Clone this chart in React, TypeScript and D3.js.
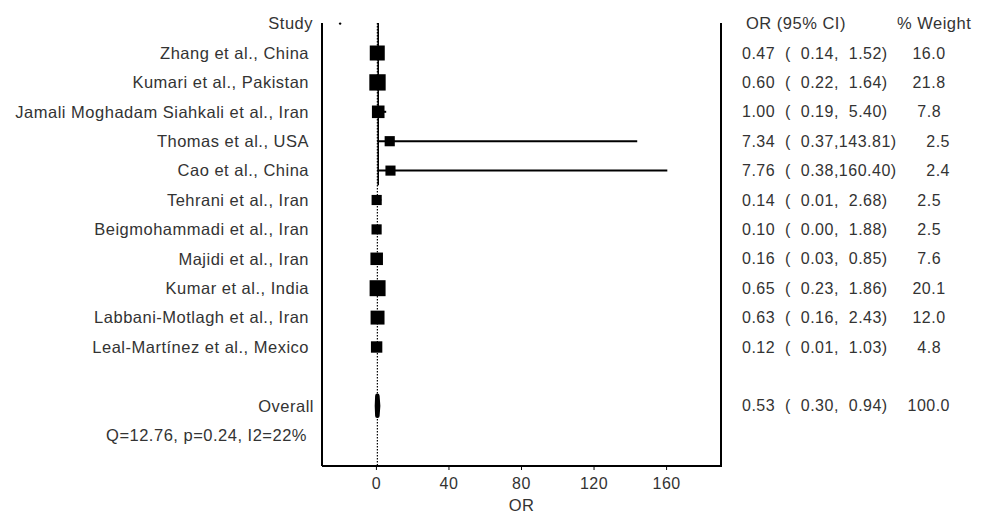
import React from 'react';
import * as d3 from 'd3';

const studies = [
  'Zhang et al., China',
  'Kumari et al., Pakistan',
  'Jamali Moghadam Siahkali et al., Iran',
  'Thomas et al., USA',
  'Cao et al., China',
  'Tehrani et al., Iran',
  'Beigmohammadi et al., Iran',
  'Majidi et al., Iran',
  'Kumar et al., India',
  'Labbani-Motlagh et al., Iran',
  'Leal-Martínez et al., Mexico',
];
const orValues = [0.47, 0.60, 1.00, 7.34, 7.76, 0.14, 0.10, 0.16, 0.65, 0.63, 0.12];
const lowerValues = [0.14, 0.22, 0.19, 0.37, 0.38, 0.01, 0.00, 0.03, 0.23, 0.16, 0.01];
const upperValues = [1.52, 1.64, 5.40, 143.81, 160.40, 2.68, 1.88, 0.85, 1.86, 2.43, 1.03];
const weights = [16.0, 21.8, 7.8, 2.5, 2.4, 2.5, 2.5, 7.6, 20.1, 12.0, 4.8];
const overallOR = 0.53;
const overallLower = 0.30;
const overallUpper = 0.94;
const overallWeight = 100.0;
const heterogeneity = 'Q=12.76, p=0.24, I2=22%';
const xTicks = [0, 40, 80, 120, 160];

const FONT = '"Liberation Sans", Arial, sans-serif';
const TEXT = '#333';

const pad = (v: number, n: number, d = 2) => {
  const s = v.toFixed(d);
  return s.length >= n ? s : ' '.repeat(n - s.length) + s;
};

const rowText = (or: number, lo: number, hi: number, w: number) =>
  `${or.toFixed(2)}  ( ${pad(lo, 5)},${pad(hi, 6)})    ${pad(w, 5, 1)}`;

export default function App() {
  const width = 986;
  const height = 514;

  const x = d3.scaleLinear().domain([-30, 190]).range([322, 721]);
  // row index -1 = header, 0..10 studies, 12 overall, 13 heterogeneity
  const y = d3.scaleLinear().domain([-1, 13]).range([23.6, 435.2]);

  const top = 23;
  const bottom = 466;
  const boxSize = (w: number) => 7 + 2 * Math.sqrt(w);

  const labelStyle: React.CSSProperties = {
    fontFamily: FONT,
    fontSize: 16.5,
    letterSpacing: 0.5,
    whiteSpace: 'pre',
  };
  const numStyle: React.CSSProperties = {
    fontFamily: FONT,
    fontSize: 16,
    letterSpacing: 0.5,
    whiteSpace: 'pre',
  };

  const dh = 10;
  const diamond = [
    [x(overallLower), y(12)],
    [x(overallOR), y(12) - dh],
    [x(overallUpper), y(12)],
    [x(overallOR), y(12) + dh],
  ];

  return (
    <svg width={width} height={height} style={{ position: 'absolute', left: 0, top: 0, background: '#fff' }}>
      {/* frame */}
      <line x1={x.range()[0]} x2={x.range()[0]} y1={top} y2={bottom} stroke="#000" strokeWidth={2} />
      <line x1={x.range()[1]} x2={x.range()[1]} y1={top} y2={bottom} stroke="#000" strokeWidth={2} />
      <line x1={x.range()[0]} x2={x.range()[1] + 1} y1={bottom} y2={bottom} stroke="#000" strokeWidth={2} />

      {/* overall effect line (dotted) and null line */}
      <line x1={x(overallOR)} x2={x(overallOR)} y1={top} y2={bottom} stroke="#000" strokeWidth={1.2} strokeDasharray="1.5,1.5" />
      <line x1={x(1)} x2={x(1)} y1={top} y2={(y(4) + y(5)) / 2} stroke="#000" strokeWidth={1.6} />

      <circle cx={x(-20)} cy={y(-1)} r={1.2} fill="#000" />

      {/* ticks */}
      {xTicks.map((t) => (
        <g key={t}>
          <line x1={x(t)} x2={x(t)} y1={bottom} y2={bottom + 4} stroke="#000" strokeWidth={1} />
          <text x={x(t)} y={bottom + 17} dy="0.35em" textAnchor="middle" fill={TEXT} style={numStyle}>
            {t}
          </text>
        </g>
      ))}
      <text x={x(80)} y={bottom + 39} dy="0.35em" textAnchor="middle" fill={TEXT} style={labelStyle}>
        OR
      </text>

      {/* headers */}
      <text x={313} y={y(-1)} dy="0.35em" textAnchor="end" fill={TEXT} style={labelStyle}>Study</text>
      <text x={746} y={y(-1)} dy="0.35em" fill={TEXT} style={labelStyle}>OR (95% CI)</text>
      <text x={897} y={y(-1)} dy="0.35em" fill={TEXT} style={labelStyle}>% Weight</text>

      {/* studies */}
      {studies.map((s, i) => {
        const b = boxSize(weights[i]);
        return (
          <g key={s}>
            <text x={309} y={y(i)} dy="0.35em" textAnchor="end" fill={TEXT} style={labelStyle}>
              {s}
            </text>
            <line x1={x(lowerValues[i])} x2={x(upperValues[i])} y1={y(i)} y2={y(i)} stroke="#000" strokeWidth={2} />
            <rect x={x(orValues[i]) - b / 2} y={y(i) - b / 2} width={b} height={b} fill="#000" />
            <text x={742} y={y(i)} dy="0.35em" fill={TEXT} style={numStyle}>
              {rowText(orValues[i], lowerValues[i], upperValues[i], weights[i])}
            </text>
          </g>
        );
      })}

      {/* overall */}
      <text x={314} y={y(12)} dy="0.35em" textAnchor="end" fill={TEXT} style={labelStyle}>Overall</text>
      <polygon points={diamond.map((p) => p.join(',')).join(' ')} fill="#000" stroke="#000" strokeWidth={4.5} strokeLinejoin="round" />
      <text x={742} y={y(12)} dy="0.35em" fill={TEXT} style={numStyle}>
        {rowText(overallOR, overallLower, overallUpper, overallWeight)}
      </text>
      <text x={307} y={y(13)} dy="0.35em" textAnchor="end" fill={TEXT} style={labelStyle}>
        {heterogeneity}
      </text>
    </svg>
  );
}
